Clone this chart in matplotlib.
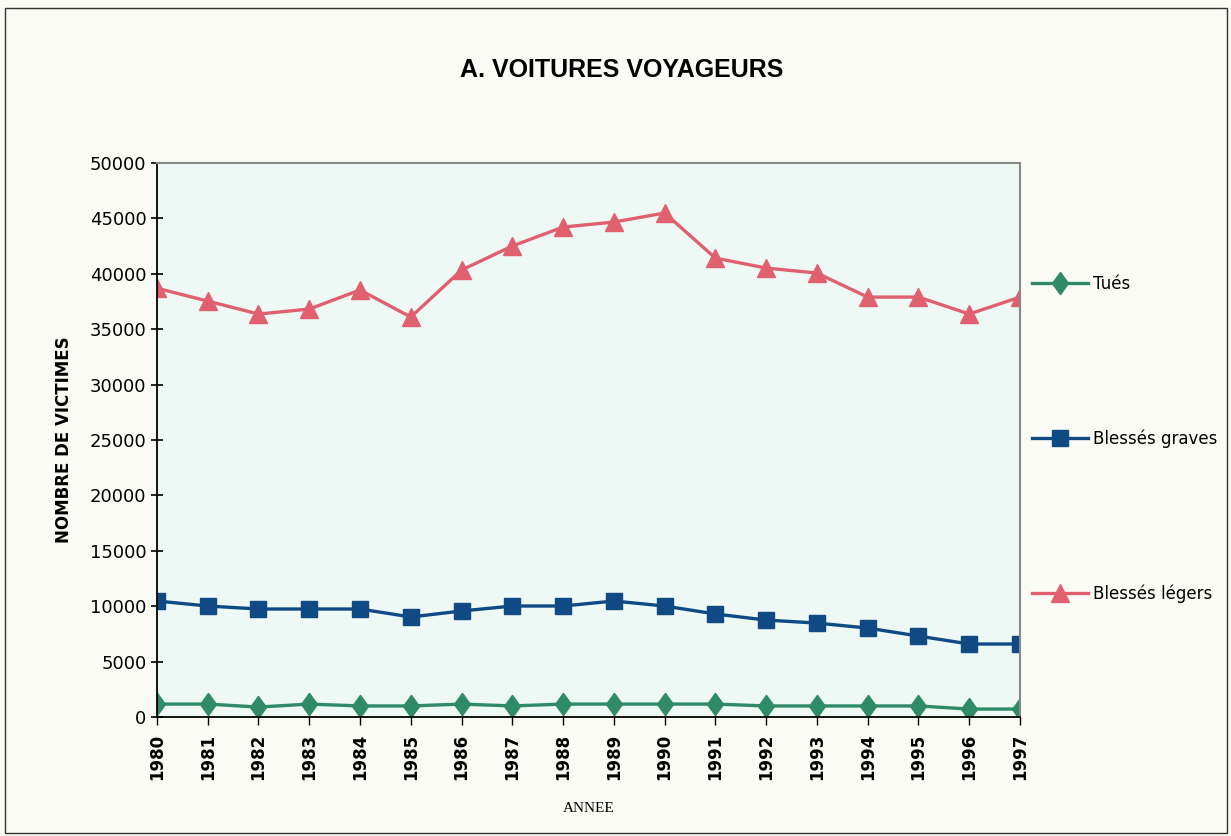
import matplotlib.pyplot as plt
from matplotlib.patches import Rectangle

years = list(range(1980, 1998))
tues = [1170, 1170, 900, 1170, 1000, 1000, 1170, 1000, 1170, 1170,
        1170, 1170, 1000, 1000, 1000, 1000, 720, 720]
blesses_graves = [10470, 10020, 9750, 9750, 9750, 9030, 9570, 10020, 10020, 10470,
                  10020, 9300, 8750, 8480, 8030, 7310, 6590, 6590]
blesses_legers = [38700, 37540, 36370, 36820, 38540, 36100, 40340, 42510, 44220, 44670,
                  45490, 41420, 40520, 40070, 37900, 37900, 36370, 37900]

labels = ["Tués", "Blessés graves", "Blessés légers"]
colors = ["#2f8a68", "#0f4a85", "#e0606f"]

plt.rcParams['font.family'] = ['DejaVu Sans']

diamond = [(0, 1), (0.72, 0), (0, -1), (-0.72, 0), (0, 1)]

fig = plt.figure(figsize=(12.31, 8.36), dpi=100, facecolor="#fbfbf6")
ax = fig.add_axes([0.1275, 0.1423, 0.7011, 0.6627])
ax.set_facecolor("#eef8f4")

ax.plot(years, tues, color=colors[0], lw=2.4, marker=diamond, ms=16, label=labels[0])
ax.plot(years, blesses_graves, color=colors[1], lw=2.4, marker="s", ms=12, label=labels[1])
ax.plot(years, blesses_legers, color=colors[2], lw=2.4, marker="^", ms=13, label=labels[2])

ax.set_xlim(1980, 1997)
ax.set_ylim(0, 50000)
ax.set_yticks(range(0, 50001, 5000))
ax.set_xticks(years)
ax.set_xticklabels([str(y) for y in years], rotation=90, fontsize=12, fontweight="bold")
ax.tick_params(axis="y", labelsize=13, direction="inout", length=8, width=1.2)
ax.tick_params(axis="x", direction="out", length=6, width=1, pad=6)

for s in ["left", "bottom"]:
    ax.spines[s].set_color("black")
    ax.spines[s].set_linewidth(1.3)
for s in ["right", "top"]:
    ax.spines[s].set_color("#888888")
    ax.spines[s].set_linewidth(1.5)

ax.set_ylabel("NOMBRE DE VICTIMES", fontsize=12, fontweight="bold", labelpad=12)
ax.set_xlabel("ANNEE", fontsize=11, family=["Liberation Serif", "DejaVu Serif"], labelpad=16)

fig.text(0.505, 0.916, "A. VOITURES VOYAGEURS", ha="center", va="center", fontsize=18,
         fontweight="bold", family=["Liberation Sans Narrow", "Liberation Sans", "DejaVu Sans"])

fig.legend(loc="upper left", bbox_to_anchor=(0.826, 0.689), frameon=False,
           fontsize=12, handlelength=3.4, handletextpad=0.25, labelspacing=8.2)

fig.add_artist(Rectangle((0.004, 0.004), 0.993, 0.986, transform=fig.transFigure,
                         fill=False, edgecolor="#333333", lw=1))

fig.savefig("out.png", dpi=100, facecolor=fig.get_facecolor())
